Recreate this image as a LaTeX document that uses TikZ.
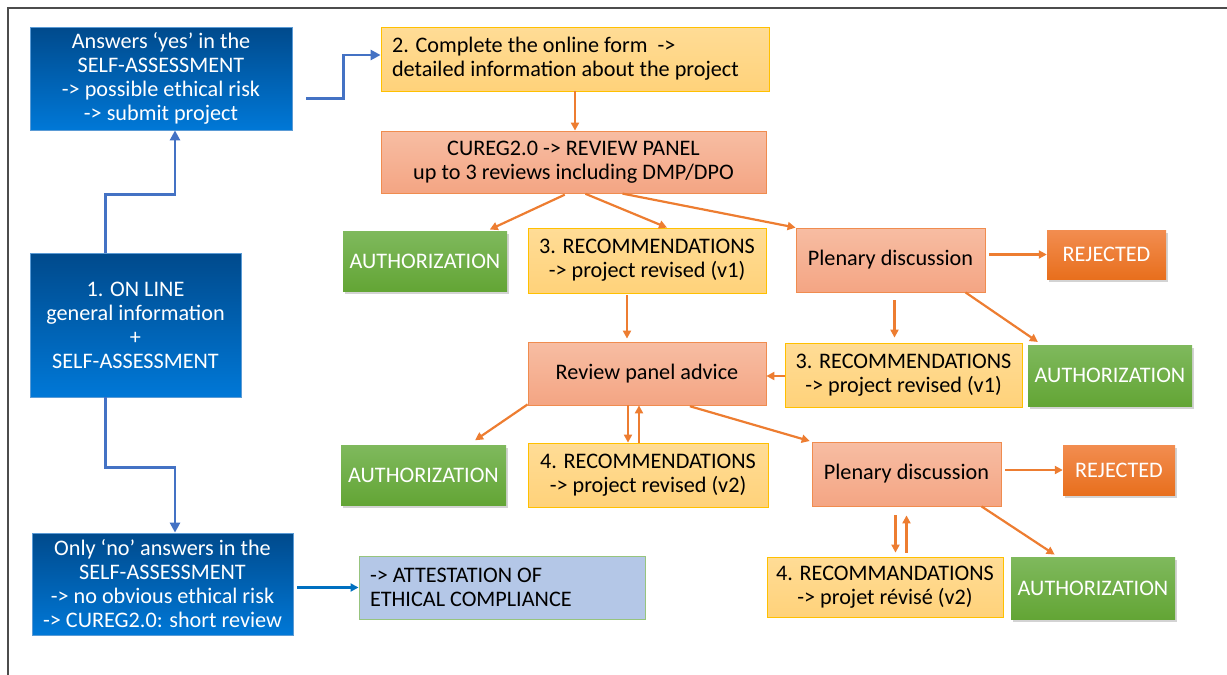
\documentclass[tikz,border=0pt]{standalone}
\usepackage{fontspec}
\setmainfont{Carlito}
\usetikzlibrary{shadows,arrows.meta}

\definecolor{bluetop}{HTML}{004A8C}
\definecolor{bluebot}{HTML}{0078D7}
\definecolor{blueedge}{HTML}{5B9BD5}
\definecolor{yeltop}{HTML}{FFDC96}
\definecolor{yelbot}{HTML}{FFD27A}
\definecolor{yeledge}{HTML}{FFC000}
\definecolor{saltop}{HTML}{F7BDA3}
\definecolor{salbot}{HTML}{F4A583}
\definecolor{saledge}{HTML}{F08C4F}
\definecolor{grntop}{HTML}{7FB95D}
\definecolor{grnbot}{HTML}{63A535}
\definecolor{rejtop}{HTML}{F28D50}
\definecolor{rejbot}{HTML}{E86F1D}
\definecolor{attfill}{HTML}{B4C7E7}
\definecolor{attedge}{HTML}{97C47E}
\definecolor{arrorange}{HTML}{ED7D31}
\definecolor{arrblue}{HTML}{4472C4}
\definecolor{arrdeep}{HTML}{0070C0}

\tikzset{
  sz/.style 2 args={minimum width=#1pt, minimum height=#2pt, inner sep=0pt},
  box/.style={font=\fontsize{22.2}{24}\selectfont, align=center},
  bluebox/.style={box, draw=blueedge, line width=0.8pt, text=white,
    top color=bluetop, bottom color=bluebot},
  yelbox/.style={box, draw=yeledge, line width=0.8pt, top color=yeltop, bottom color=yelbot},
  salbox/.style={box, draw=saledge, line width=0.8pt, top color=saltop, bottom color=salbot},
  grnbox/.style={box, text=white, top color=grntop, bottom color=grnbot,
    drop shadow={opacity=0.35, shadow xshift=2pt, shadow yshift=-3pt}},
  rejbox/.style={box, text=white, top color=rejtop, bottom color=rejbot,
    drop shadow={opacity=0.35, shadow xshift=2pt, shadow yshift=-3pt}},
  attbox/.style={box, draw=attedge, line width=1pt, fill=attfill, align=flush left},
  oarr/.style={draw=arrorange, line width=2.2pt, -{Triangle[length=8pt,width=8pt]}},
  barr/.style={draw=arrblue, line width=2.8pt, -{Triangle[length=10pt,width=10pt]}},
}

\begin{document}
\begin{tikzpicture}[x=1pt, y=-1pt]
  \useasboundingbox (0,0) rectangle (1227,675);
  \draw[color=black!70, line width=2pt] (8,675) -- (8,8) -- (1227,8);

  % left column
  \node[bluebox, sz={262}{103}] (yes) at (161, 78.5)
    {Answers ‘yes’ in the\\SELF-ASSESSMENT\\-> possible ethical risk\\-> submit project};
  \node[bluebox, sz={211}{144}] (online) at (135.5, 325)
    {1. ON LINE\\general information\\+\\SELF-ASSESSMENT};
  \node[bluebox, sz={261}{102}] (no) at (162.5, 584)
    {Only ‘no’ answers in the\\SELF-ASSESSMENT\\-> no obvious ethical risk\\-> CUREG2.0: short review};
  \node[attbox, sz={286}{63}, text width=264pt] (attest) at (502, 587.5)
    {-> ATTESTATION OF\\ETHICAL COMPLIANCE};

  % review path
  \node[yelbox, sz={388}{64}, text width=366pt, align=flush left] (form) at (575, 59)
    {2. Complete the online form~~->\\detailed information about the project};
  \node[salbox, sz={385}{62}] (panel) at (573.5, 162)
    {CUREG2.0 -> REVIEW PANEL\\up to 3 reviews including DMP/DPO};

  \node[grnbox, sz={164}{60}] (auth1) at (425, 261) {AUTHORIZATION};
  \node[yelbox, sz={238}{65}] (rec1) at (647, 260.5)
    {3. RECOMMENDATIONS\\-> project revised (v1)};
  \node[salbox, sz={189}{64}] (plen1) at (890.5, 260) {Plenary discussion};
  \node[rejbox, sz={119}{49}] (rej1) at (1106.5, 254.5) {REJECTED};

  \node[salbox, sz={238}{63}] (advice) at (647, 373.5) {Review panel advice};
  \node[yelbox, sz={237}{64}] (rec1b) at (903.5, 375)
    {3. RECOMMENDATIONS\\-> project revised (v1)};
  \node[grnbox, sz={164}{61}] (auth2) at (1110, 375.5) {AUTHORIZATION};

  \node[grnbox, sz={165}{60}] (auth3) at (423.5, 475) {AUTHORIZATION};
  \node[yelbox, sz={240}{64}] (rec2) at (648, 475)
    {4. RECOMMENDATIONS\\-> project revised (v2)};
  \node[salbox, sz={189}{64}] (plen2) at (906.5, 474) {Plenary discussion};
  \node[rejbox, sz={112}{50}] (rej2) at (1119, 470) {REJECTED};

  \node[yelbox, sz={236}{60}] (rec2b) at (885, 587)
    {4. RECOMMANDATIONS\\-> projet révisé (v2)};
  \node[grnbox, sz={164}{62}] (auth4) at (1093, 588) {AUTHORIZATION};

  % blue connectors
  \draw[barr] ([xshift=-30pt]online.north) -- ++(0,-58) -| ([xshift=14pt]yes.south);
  \draw[barr] ([xshift=14pt,yshift=-20pt]yes.east) -- ++(37,0) |- ([yshift=4pt]form.west);
  \draw[barr] ([xshift=-30pt]online.south) -- ++(0,70) -| ([xshift=12.5pt]no.north);
  \draw[draw=arrdeep, line width=2.2pt, -{Triangle[length=8pt,width=8pt]}, shorten <=4pt]
    (attest.west -| no.east) -- (attest.west);

  % orange connectors
  \draw[oarr] (form.south) -- (form.south |- panel.north);
  \draw[oarr, shorten <=3pt, shorten >=3pt] ([xshift=-6pt]panel.south) -- ([xshift=62pt]auth1.north);
  \draw[oarr, shorten <=1pt] ([xshift=11pt]panel.south) -- ([xshift=20pt]rec1.north);
  \draw[oarr, shorten <=1pt] ([xshift=48pt]panel.south) -- (plen1.north west);
  \draw[oarr, shorten <=4pt] (plen1.east |- rej1.west) -- (rej1.west);
  \draw[oarr, shorten <=8pt, shorten >=5pt] ([xshift=4pt]plen1.south) -- ([xshift=4pt]plen1.south |- rec1b.north);
  \draw[oarr, shorten >=5pt] ([xshift=75pt]plen1.south) -- ([xshift=-68pt]auth2.north);
  \draw[oarr] (rec1b.west |- 0,376) -- (advice.east |- 0,376);
  \draw[oarr, shorten <=2pt, shorten >=3pt] ([xshift=-20pt]rec1.south) -- ([xshift=-20pt]rec1.south |- advice.north);
  \draw[oarr, shorten >=8pt] ([yshift=1pt]advice.south west) -- ([xshift=45pt]auth3.north);
  \draw[oarr] ([xshift=-19pt]advice.south) -- ([xshift=-19pt]advice.south |- rec2.north);
  \draw[oarr] ([xshift=-9pt]rec2.north) -- ([xshift=-9pt]rec2.north |- advice.south);
  \draw[oarr, shorten <=3pt, shorten >=2pt] ([xshift=40pt]advice.south) -- (plen2.north west);
  \draw[oarr, shorten <=4pt] (plen2.east |- rej2.west) -- (rej2.west);
  \draw[oarr, shorten <=9pt, shorten >=4pt] ([xshift=-11pt]plen2.south) -- ([xshift=-11pt]plen2.south |- rec2b.north);
  \draw[oarr, shorten <=4pt, shorten >=9pt] (rec2b.north -| plen2.south) -- (plen2.south);
  \draw[oarr, shorten >=4pt] ([xshift=75pt]plen2.south) -- ([xshift=-35pt]auth4.north);
\end{tikzpicture}
\end{document}
